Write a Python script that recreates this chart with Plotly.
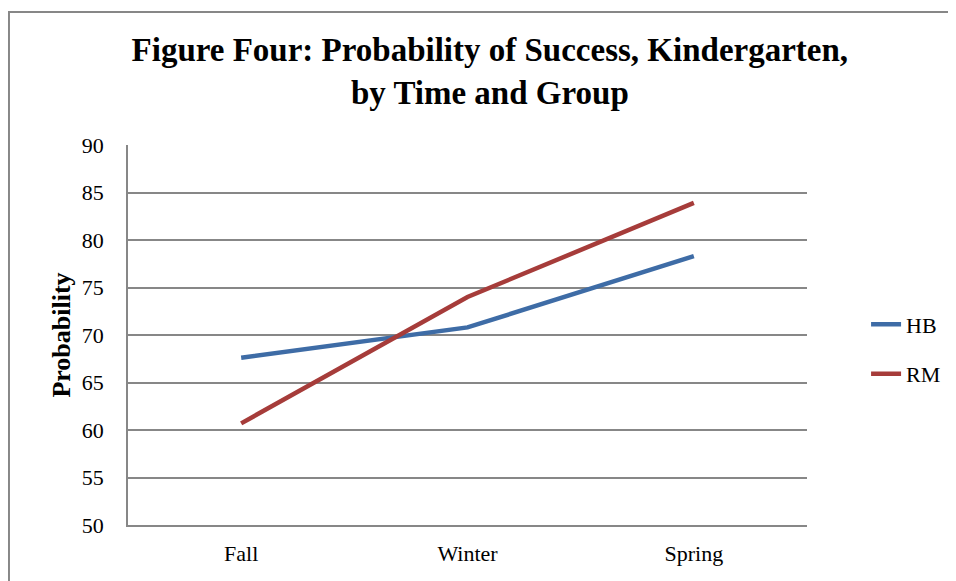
import plotly.graph_objects as go

# Data
seasons = ['Fall', 'Winter', 'Spring']
hb_values = [67.6, 70.8, 78.3]
rm_values = [60.7, 74.0, 83.9]

SERIF = 'Liberation Serif, Times New Roman, serif'
GRID = '#878787'

fig = go.Figure()

fig.add_trace(go.Scatter(
    x=seasons, y=hb_values, mode='lines', name='HB',
    legendgroup='hb',
    line=dict(color='#3E6CA6', width=4.5)
))
fig.add_trace(go.Scatter(
    x=seasons, y=rm_values, mode='lines', name='RM',
    legendgroup='rm',
    line=dict(color='#A63C3A', width=4.5)
))

# outer chart frame (cropped at right and bottom in the original)
fig.add_shape(
    type='rect', xref='paper', yref='paper',
    x0=-0.1753, x1=1.4, y0=-0.4, y1=1.35,
    line=dict(color=GRID, width=2), fillcolor='rgba(0,0,0,0)',
    layer='below'
)

fig.update_layout(
    width=956, height=581,
    # page body adds an 8px offset, so margins are shifted to compensate
    margin=dict(l=120, r=157, t=137, b=64),
    paper_bgcolor='white',
    plot_bgcolor='white',
    font=dict(family=SERIF, size=22, color='black'),
    title=dict(
        text='<b>Figure Four: Probability of Success, Kindergarten,<br>by Time and Group</b>',
        x=0.504, xanchor='center', y=0.908, yanchor='top',
        font=dict(family=SERIF, size=33, color='black')
    ),
    xaxis=dict(
        type='category', range=[-0.5, 2.5],
        showgrid=False, showline=True, linecolor=GRID, linewidth=1.5,
        ticks='', ticklabelstandoff=8, tickfont=dict(size=22)
    ),
    yaxis=dict(
        range=[50, 90], dtick=5, tick0=50,
        showgrid=True, gridcolor=GRID, gridwidth=1.5,
        showline=True, linecolor=GRID, linewidth=1.5,
        zeroline=False, ticks='', ticklabelstandoff=18,
        title=dict(text='<b>Probability</b>', font=dict(size=26), standoff=4),
        tickfont=dict(size=22)
    ),
    legend=dict(
        x=1.087, y=0.462, xanchor='left', yanchor='middle',
        traceorder='grouped', tracegroupgap=18,
        font=dict(size=22), bgcolor='rgba(0,0,0,0)'
    ),
    showlegend=True
)

fig.write_html('out.html')
